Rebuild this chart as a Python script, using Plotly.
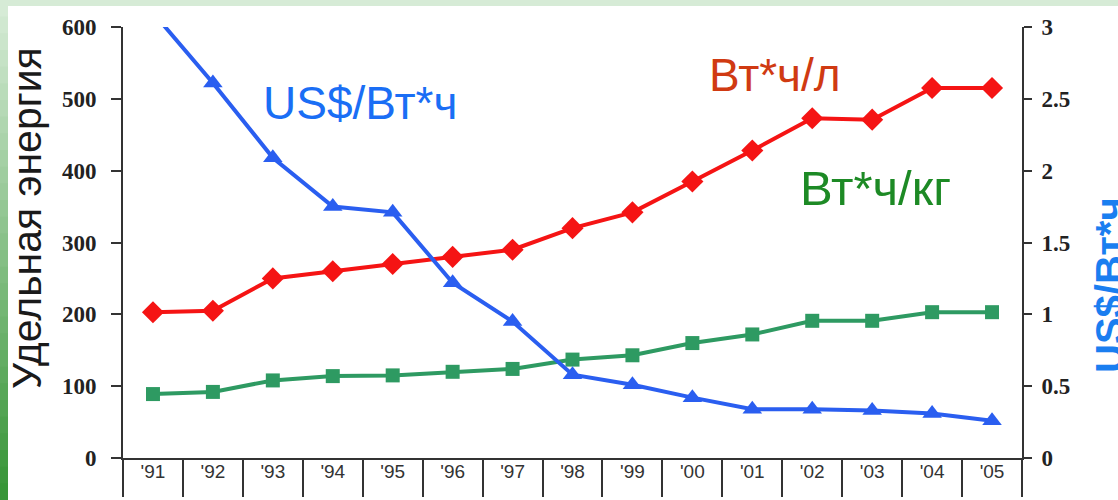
import plotly.graph_objects as go

years = ["'91", "'92", "'93", "'94", "'95", "'96", "'97", "'98", "'99", "'00", "'01", "'02", "'03", "'04", "'05"]
wh_per_l = [203, 205, 250, 260, 270, 280, 290, 320, 342, 385, 428, 473, 471, 515, 515]
wh_per_kg = [89, 92, 108, 114, 115, 120, 124, 137, 143, 160, 172, 191, 191, 203, 203]
usd_per_wh = [3.1, 2.61, 2.09, 1.75, 1.71, 1.22, 0.95, 0.58, 0.51, 0.42, 0.34, 0.34, 0.33, 0.31, 0.26]

W, H = 1118, 500
L, R, T, B = 123, 96, 27, 42
PW, PH = W - L - R, H - T - B

def px(x):
    return (x - L) / PW

def py(y):
    return (H - B - y) / PH

fig = go.Figure()
fig.add_trace(go.Scatter(x=years, y=wh_per_l, mode="lines+markers", name="Вт*ч/л",
                         line=dict(color="#f51414", width=4),
                         marker=dict(symbol="diamond", size=17, color="#f51414")))
fig.add_trace(go.Scatter(x=years, y=wh_per_kg, mode="lines+markers", name="Вт*ч/кг",
                         line=dict(color="#2e9a62", width=4),
                         marker=dict(symbol="square", size=14, color="#2e9a62")))
fig.add_trace(go.Scatter(x=years, y=usd_per_wh, mode="lines+markers", name="US$/Вт*ч", yaxis="y2",
                         line=dict(color="#2a5ef0", width=4),
                         marker=dict(symbol="triangle-up", size=17, color="#2a5ef0")))

tickfont = dict(family="Liberation Serif", size=23, color="#222222", weight="bold")

shapes = [
    dict(type="rect", xref="paper", yref="paper", x0=px(0), x1=px(W), y0=py(6), y1=py(-2),
         fillcolor="#d6ebd6", line=dict(width=0), layer="below"),
]
# left gradient strip
n = 30
c0 = (214, 235, 214)
c1 = (56, 150, 56)
for i in range(n):
    t = i / (n - 1)
    col = tuple(int(c0[k] + (c1[k] - c0[k]) * t) for k in range(3))
    y0 = i * H / n
    y1 = (i + 1) * H / n + 1
    shapes.append(dict(type="rect", xref="paper", yref="paper", x0=px(0), x1=px(8),
                       y0=py(y1), y1=py(y0), fillcolor="rgb(%d,%d,%d)" % col,
                       line=dict(width=0), layer="below"))

annotations = [
    dict(text="Удельная энергия", x=px(27), y=py(218), xref="paper", yref="paper",
         textangle=-90, showarrow=False, font=dict(family="Liberation Sans", size=41, color="#1a1a1a"),
         xanchor="center", yanchor="middle"),
    dict(text="US$/Вт*ч", x=px(1086), y=py(285), xref="paper", yref="paper",
         textangle=-90, showarrow=False, font=dict(family="Liberation Sans", size=40, color="#1a7ef0", weight="bold"),
         xanchor="left", yanchor="middle"),
    dict(text="US$/Вт*ч", x=px(360), y=py(103), xref="paper", yref="paper", showarrow=False,
         font=dict(family="Liberation Sans", size=46, color="#1a6ef5"), xanchor="center", yanchor="middle"),
    dict(text="Вт*ч/л", x=px(775), y=py(75), xref="paper", yref="paper", showarrow=False,
         font=dict(family="Liberation Sans", size=46, color="#d03a12"), xanchor="center", yanchor="middle"),
    dict(text="Вт*ч/кг", x=px(875), y=py(188), xref="paper", yref="paper", showarrow=False,
         font=dict(family="Liberation Sans", size=49, color="#1d8a25"), xanchor="center", yanchor="middle"),
]

fig.update_layout(
    width=W, height=H,
    margin=dict(l=L, r=R, t=T, b=B),
    paper_bgcolor="white", plot_bgcolor="white",
    showlegend=False,
    shapes=shapes,
    annotations=annotations,
    xaxis=dict(type="category", categoryorder="array", categoryarray=years,
               range=[-0.5, len(years) - 0.5], automargin=False,
               showgrid=False, zeroline=False, showline=True, linecolor="#333333", linewidth=2,
               ticks="outside", tickson="boundaries", ticklen=37, tickwidth=2, tickcolor="#333333",
               ticklabelstandoff=-5,
               tickfont=dict(family="Liberation Sans", size=19, color="#333333")),
    yaxis=dict(range=[0, 600], dtick=100, showgrid=False, zeroline=False, automargin=False,
               showline=True, linecolor="#333333", linewidth=2,
               ticks="outside", ticklen=10, tickwidth=2, tickcolor="#333333",
               ticklabelstandoff=10, tickfont=tickfont),
    yaxis2=dict(range=[0, 3], dtick=0.5, overlaying="y", side="right", showgrid=False, zeroline=False,
                automargin=False,
                showline=True, linecolor="#333333", linewidth=2,
                ticks="outside", ticklen=8, tickwidth=2, tickcolor="#333333",
                ticklabelstandoff=5, tickfont=tickfont),
)

fig.write_html("out.html", config={"displayModeBar": False},
               post_script="document.body.style.margin='0';")
